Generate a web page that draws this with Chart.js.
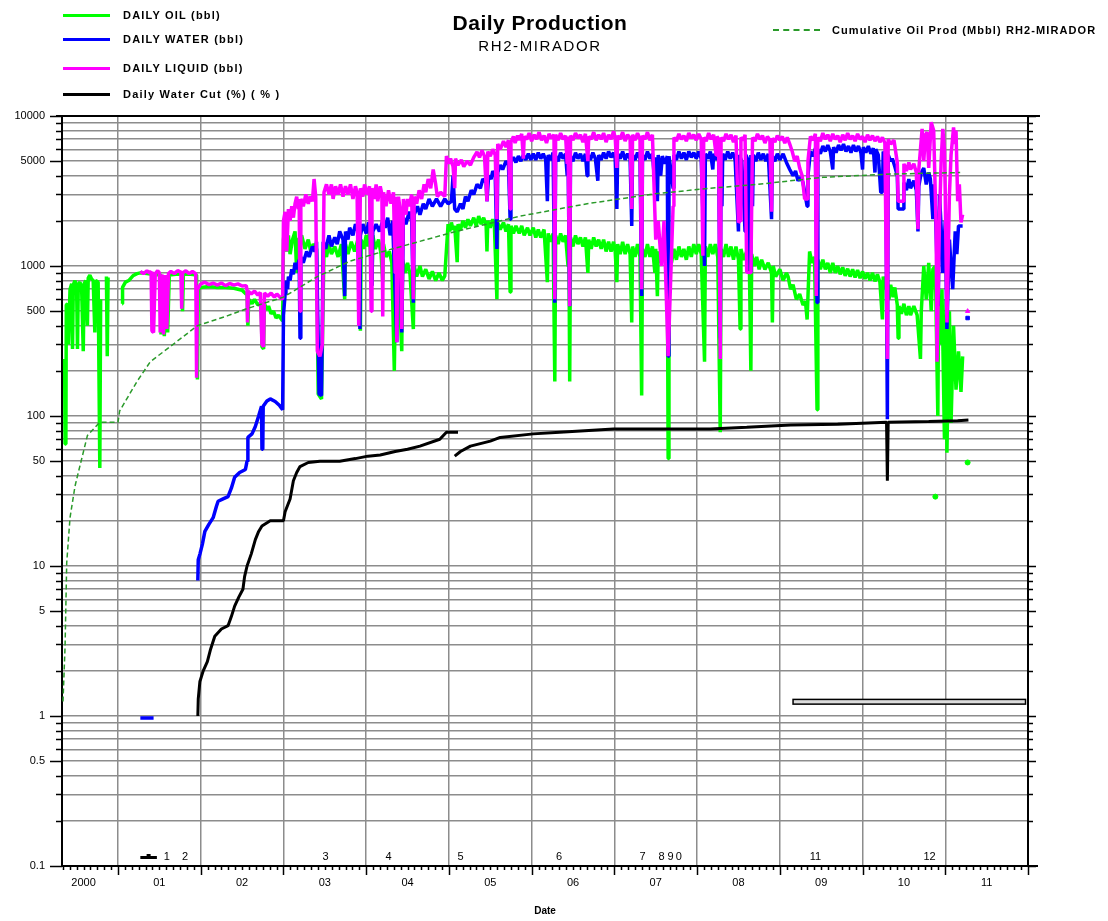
<!DOCTYPE html>
<html lang="en">
<head>
<meta charset="UTF-8">
<title>Daily Production RH2-MIRADOR</title>
<script src="https://cdn.jsdelivr.net/npm/chart.js"></script>
<style>
    body { margin: 0; background: #fff; font-family: "Liberation Sans", Arial, sans-serif; }
    #wrap { position: relative; width: 1108px; height: 921px; }
    .t { position: absolute; color: #000; white-space: nowrap; }
    .title { left: 0; width: 1080px; text-align: center; font-weight: bold; }
    .leg { font-size: 11px; font-weight: bold; letter-spacing: 1.2px; transform: translateY(-50%); }
    .sw { position: absolute; height: 3px; width: 47px; left: 63px; }
</style>
</head>
<body>
<div id="wrap">
    <canvas id="prodChart"></canvas>

    <div class="t title" style="top:11px; font-size:21px; letter-spacing:0.5px;">Daily Production</div>
    <div class="t title" style="top:37px; font-size:15px; letter-spacing:1.6px; font-weight:normal;">RH2-MIRADOR</div>

    <div class="sw" style="top:14px; background:#00ff00;"></div>
    <div class="t leg" style="left:123px; top:15px;">DAILY OIL (bbl)</div>
    <div class="sw" style="top:38px; background:#0000ff;"></div>
    <div class="t leg" style="left:123px; top:39px;">DAILY WATER (bbl)</div>
    <div class="sw" style="top:67px; background:#ff00ff;"></div>
    <div class="t leg" style="left:123px; top:68px;">DAILY LIQUID (bbl)</div>
    <div class="sw" style="top:93px; background:#000;"></div>
    <div class="t leg" style="left:123px; top:94px;">Daily Water Cut (%) ( % )</div>

    <div style="position:absolute; left:773px; top:29px; width:47px; border-top:2px dashed #2a9a2a;"></div>
    <div class="t leg" style="left:832px; top:30px; letter-spacing:1.1px;">Cumulative Oil Prod (Mbbl) RH2-MIRADOR</div>
</div>

<script>
// ---- data: [decimal year, value] ----
const oil = [
    [2000.355,240],[2000.36,65],[2000.37,70],[2000.375,550],[2000.39,560],[2000.40,300],[2000.42,700],[2000.44,760],
    [2000.45,280],[2000.46,750],[2000.48,800],[2000.50,700],[2000.51,280],[2000.52,760],[2000.54,780],[2000.56,720],
    [2000.58,270],[2000.59,760],[2000.61,800],[2000.63,400],[2000.64,830],[2000.66,870],[2000.68,820],[2000.70,800],
    [2000.72,360],[2000.73,800],[2000.76,780],[2000.78,45],[2000.79,600],[2000.80,null],
    [2000.86,850],[2000.87,250],[2000.88,840],[2000.89,null],
    [2001.05,560],[2001.055,720],[2001.09,780],[2001.13,800],[2001.18,860],[2001.23,890],[2001.27,900],[2001.35,890],
    [2001.41,880],[2001.42,360],[2001.44,870],[2001.51,880],[2001.52,350],[2001.54,860],[2001.56,340],[2001.58,860],
    [2001.60,360],[2001.62,870],[2001.70,880],[2001.77,880],[2001.78,500],[2001.79,880],[2001.88,880],[2001.95,870],
    [2001.96,175],[2001.97,700],
    [2002.00,720],[2002.10,730],[2002.20,720],[2002.30,720],[2002.40,710],[2002.50,690],[2002.56,640],[2002.57,400],
    [2002.58,600],[2002.62,560],[2002.65,600],[2002.69,550],[2002.73,570],[2002.74,290],[2002.76,280],[2002.77,560],
    [2002.80,510],[2002.82,540],[2002.85,480],[2002.88,500],[2002.91,450],[2002.94,470],[2002.99,430],
    [2003.00,1500],[2003.02,1900],[2003.04,1250],[2003.06,1600],[2003.08,1200],[2003.11,1500],[2003.14,1700],[2003.16,900],
    [2003.18,1500],[2003.22,1600],[2003.26,1300],[2003.30,1500],[2003.33,1250],[2003.36,1400],[2003.40,1300],[2003.42,140],
    [2003.46,130],[2003.49,1300],[2003.52,1150],[2003.55,1400],[2003.58,1200],[2003.62,1350],[2003.66,1150],[2003.70,1400],
    [2003.74,600],[2003.75,1400],[2003.78,1200],[2003.82,1450],[2003.86,1250],[2003.90,1500],[2003.93,370],[2003.94,1500],
    [2003.97,1300],
    [2004.00,1600],[2004.02,1350],[2004.04,1700],[2004.07,740],[2004.08,1600],[2004.11,1300],[2004.15,1500],[2004.18,1200],
    [2004.20,780],[2004.21,1400],[2004.24,1150],[2004.28,1250],[2004.31,1050],[2004.34,200],[2004.36,1150],[2004.39,950],
    [2004.43,270],[2004.44,1100],[2004.47,900],[2004.50,1050],[2004.53,880],[2004.57,380],[2004.58,1000],[2004.61,850],
    [2004.65,1000],[2004.68,850],[2004.72,950],[2004.76,820],[2004.80,920],[2004.84,800],[2004.88,900],[2004.92,800],
    [2004.95,860],[2004.99,1900],
    [2005.01,1700],[2005.03,1950],[2005.05,1750],[2005.07,1850],[2005.10,1060],[2005.11,1900],[2005.14,1750],[2005.17,2000],
    [2005.20,1800],[2005.23,2050],[2005.26,1850],[2005.30,2100],[2005.33,1850],[2005.36,2150],[2005.39,1900],[2005.42,2100],
    [2005.45,1850],[2005.46,1250],[2005.47,2000],[2005.50,1800],[2005.53,2050],[2005.55,1850],[2005.58,600],[2005.59,1950],
    [2005.62,1750],[2005.66,1950],[2005.69,1700],[2005.72,1900],[2005.74,670],[2005.75,1850],[2005.78,1650],[2005.81,1850],
    [2005.85,1650],[2005.88,1850],[2005.91,1600],[2005.95,1800],[2005.98,1600],
    [2006.02,1800],[2006.05,1550],[2006.08,1750],[2006.11,1550],[2006.15,1750],[2006.19,780],[2006.20,1650],[2006.23,1450],
    [2006.26,1650],[2006.28,170],[2006.29,1600],[2006.32,1400],[2006.35,1650],[2006.38,1450],[2006.41,1600],[2006.44,1000],
    [2006.45,1550],[2006.46,170],[2006.47,1550],[2006.50,1350],[2006.53,1600],[2006.56,1400],[2006.59,1550],[2006.62,1350],
    [2006.65,1550],[2006.68,900],[2006.69,1500],[2006.72,1300],[2006.75,1550],[2006.78,1350],[2006.81,1500],[2006.84,1300],
    [2006.87,1500],[2006.90,1250],[2006.93,1450],[2006.96,1250],[2006.99,1450],
    [2007.01,1250],[2007.03,780],[2007.04,1400],[2007.07,1200],[2007.10,1450],[2007.13,1200],[2007.16,1400],[2007.19,1200],
    [2007.21,420],[2007.22,1350],[2007.25,1150],[2007.28,1400],[2007.31,1150],[2007.33,137],[2007.34,1300],[2007.37,1150],
    [2007.40,1400],[2007.43,1150],[2007.46,1350],[2007.49,900],[2007.50,1300],[2007.52,630],[2007.53,1250],[2007.56,1050],
    [2007.58,1300],[2007.61,1100],[2007.64,1250],[2007.65,52],[2007.66,1250],[2007.69,1050],[2007.72,1300],[2007.75,1100],
    [2007.78,1350],[2007.81,1150],[2007.84,1300],[2007.87,1100],[2007.90,1350],[2007.93,1150],[2007.96,1400],[2007.99,1200],
    [2008.02,1400],[2008.05,1200],[2008.09,230],[2008.10,1350],[2008.13,1150],[2008.16,1400],[2008.19,1200],[2008.22,1400],
    [2008.25,1150],[2008.28,78],[2008.29,1300],[2008.32,1150],[2008.35,1400],[2008.38,1150],[2008.41,1350],[2008.44,1100],
    [2008.47,1350],[2008.50,1100],[2008.52,380],[2008.53,1300],[2008.56,1100],[2008.60,1250],[2008.62,900],[2008.63,1200],
    [2008.65,200],[2008.66,1200],[2008.69,1000],[2008.72,1150],[2008.75,950],[2008.78,1100],[2008.82,950],[2008.86,1050],
    [2008.90,900],[2008.91,420],[2008.92,1000],[2008.95,850],
    [2009.00,950],[2009.04,800],[2009.08,900],[2009.10,850],[2009.13,700],[2009.16,750],[2009.20,600],[2009.24,650],
    [2009.28,550],[2009.31,580],[2009.33,440],[2009.36,1250],[2009.39,1050],[2009.42,1150],[2009.45,110],[2009.46,1100],
    [2009.49,950],[2009.52,1100],[2009.55,950],[2009.58,1050],[2009.61,900],[2009.64,1050],[2009.67,900],[2009.70,1000],
    [2009.73,880],[2009.76,980],[2009.79,860],[2009.82,960],[2009.85,850],[2009.88,950],[2009.91,840],[2009.94,940],
    [2009.97,830],
    [2010.00,920],[2010.03,820],[2010.06,900],[2010.09,800],[2010.12,900],[2010.15,790],[2010.18,880],[2010.21,780],
    [2010.24,440],[2010.25,850],[2010.28,700],[2010.30,800],[2010.32,600],[2010.34,750],[2010.37,620],[2010.39,720],
    [2010.42,550],[2010.43,330],[2010.44,540],[2010.47,480],[2010.50,560],[2010.53,470],[2010.56,540],[2010.58,470],
    [2010.62,540],[2010.66,470],[2010.70,240],[2010.71,500],[2010.74,1000],[2010.77,600],[2010.80,1050],[2010.83,500],
    [2010.85,950],[2010.88,1000],[2010.91,100],[2010.92,600],[2010.94,300],[2010.96,700],[2010.99,70],[2011.01,600],
    [2011.02,57],[2011.04,300],[2011.05,500],[2011.07,90],[2011.10,400],[2011.13,150],[2011.16,270],[2011.19,145],
    [2011.21,250]
];

const water = [
    [2001.27,0.97],[2001.43,0.97],[2001.44,null],
    [2001.965,8],[2001.97,11],[2001.99,12],[2002.02,14],[2002.05,17],[2002.10,19],[2002.15,21],[2002.19,25],[2002.21,27],
    [2002.27,28],[2002.33,29],[2002.37,33],[2002.41,39],[2002.47,42],[2002.54,44],[2002.56,50],[2002.57,72],[2002.62,76],
    [2002.66,85],[2002.70,100],[2002.735,116],[2002.74,60],[2002.75,60],[2002.755,116],[2002.80,126],[2002.84,130],
    [2002.90,125],[2002.95,118],[2002.99,110],
    [2003.00,470],[2003.02,650],[2003.03,800],[2003.05,700],[2003.06,850],[2003.08,800],[2003.10,950],[2003.12,880],
    [2003.14,1050],[2003.16,950],[2003.19,1100],[2003.20,330],[2003.21,1150],[2003.24,1050],[2003.28,1250],[2003.31,1150],
    [2003.35,1350],[2003.38,1250],[2003.40,1450],[2003.43,140],[2003.46,137],[2003.48,1450],[2003.51,1300],[2003.55,1600],
    [2003.58,1350],[2003.62,1550],[2003.65,1400],[2003.68,1700],[2003.72,1500],[2003.74,630],[2003.75,1700],[2003.78,1500],
    [2003.80,1800],[2003.84,1600],[2003.87,1900],[2003.90,1700],[2003.925,380],[2003.93,1600],[2003.96,1900],
    [2004.00,1650],[2004.03,1950],[2004.05,1700],[2004.07,740],[2004.08,1700],[2004.12,1900],[2004.16,1700],[2004.20,2000],
    [2004.23,1800],[2004.26,2100],[2004.29,1600],[2004.32,2000],[2004.37,310],[2004.39,2000],[2004.41,1800],[2004.43,360],
    [2004.45,2100],[2004.48,1900],[2004.52,2300],[2004.55,2000],[2004.57,570],[2004.58,2200],[2004.62,2500],[2004.65,2200],
    [2004.69,2600],[2004.72,2400],[2004.76,2800],[2004.80,2500],[2004.85,2800],[2004.90,2500],[2004.95,2800],[2004.99,2600],
    [2005.03,2700],[2005.05,4000],[2005.07,2400],[2005.10,2300],[2005.14,2600],[2005.17,2400],[2005.20,2900],[2005.23,2700],
    [2005.27,3200],[2005.30,3000],[2005.34,3500],[2005.38,3300],[2005.41,3800],[2005.45,3600],[2005.46,2700],[2005.48,4000],
    [2005.51,3800],[2005.53,4300],[2005.56,4000],[2005.58,1300],[2005.59,4200],[2005.62,4700],[2005.65,4400],[2005.69,5000],
    [2005.72,4700],[2005.74,2050],[2005.75,5000],[2005.78,5300],[2005.81,4900],[2005.84,5400],[2005.87,5000],[2005.90,5500],
    [2005.93,5100],[2005.96,5600],[2005.99,5100],
    [2006.02,5600],[2006.05,5100],[2006.08,5700],[2006.11,5200],[2006.14,5600],[2006.17,5100],[2006.19,2700],[2006.20,5500],
    [2006.23,5100],[2006.26,5700],[2006.28,570],[2006.29,5400],[2006.32,5000],[2006.35,5700],[2006.38,5200],[2006.41,5600],
    [2006.43,4000],[2006.44,5500],[2006.46,540],[2006.47,5400],[2006.50,5000],[2006.53,5700],[2006.56,5200],[2006.59,5600],
    [2006.62,5000],[2006.65,5600],[2006.67,4000],[2006.68,5500],[2006.71,5100],[2006.74,5700],[2006.77,5200],[2006.80,3700],
    [2006.81,5500],[2006.84,5100],[2006.87,5700],[2006.90,5200],[2006.93,5800],[2006.96,5300],[2006.99,5700],
    [2007.01,5200],[2007.03,2400],[2007.04,5600],[2007.07,5200],[2007.10,5800],[2007.13,5100],[2007.16,5600],[2007.19,5200],
    [2007.21,1850],[2007.22,5500],[2007.25,5100],[2007.28,5700],[2007.31,5200],[2007.33,630],[2007.34,5500],[2007.37,5100],
    [2007.40,5800],[2007.43,5200],[2007.46,5600],[2007.49,3500],[2007.50,5300],[2007.52,2700],[2007.53,5500],[2007.56,4000],
    [2007.58,5400],[2007.61,4800],[2007.64,5400],[2007.65,250],[2007.66,5400],[2007.68,4500],[2007.71,3300],[2007.72,5500],
    [2007.75,5100],[2007.78,5800],[2007.81,5200],[2007.84,5700],[2007.87,5100],[2007.90,5800],[2007.93,5300],[2007.96,5700],
    [2007.99,5200],
    [2008.02,5800],[2008.05,5200],[2008.09,1000],[2008.10,5600],[2008.13,5200],[2008.16,5800],[2008.19,4400],[2008.20,5600],
    [2008.23,5100],[2008.26,5700],[2008.28,330],[2008.29,5600],[2008.30,2500],[2008.31,5600],[2008.34,5100],[2008.37,5800],
    [2008.40,5200],[2008.43,5700],[2008.46,5100],[2008.50,1700],[2008.51,5500],[2008.54,5000],[2008.58,1700],[2008.59,5500],
    [2008.62,5000],[2008.64,910],[2008.65,5500],[2008.67,2500],[2008.68,5500],[2008.71,5000],[2008.74,5700],[2008.77,5100],
    [2008.80,5600],[2008.83,5000],[2008.86,5600],[2008.90,2050],[2008.91,5400],[2008.94,5000],[2008.97,5600],
    [2009.00,5100],[2009.04,5600],[2009.08,4900],[2009.12,4400],[2009.16,4000],[2009.19,4300],[2009.22,3700],[2009.25,3900],
    [2009.28,3600],[2009.33,2500],[2009.34,4000],[2009.37,5800],[2009.40,5400],[2009.43,6100],[2009.45,570],[2009.46,6000],
    [2009.49,5600],[2009.52,6300],[2009.55,5800],[2009.58,6400],[2009.61,5800],[2009.64,4400],[2009.65,6200],[2009.68,5700],
    [2009.71,6400],[2009.74,5900],[2009.77,6500],[2009.80,5800],[2009.83,6300],[2009.86,5700],[2009.89,6400],[2009.92,5800],
    [2009.95,6300],[2009.98,5700],
    [2010.00,4400],[2010.01,6200],[2010.04,5700],[2010.07,6300],[2010.10,5600],[2010.13,6100],[2010.15,4200],[2010.16,6000],
    [2010.19,5500],[2010.22,3100],[2010.24,3100],[2010.25,5800],[2010.28,5300],[2010.30,95],[2010.31,5500],[2010.34,5000],
    [2010.36,5200],[2010.39,4600],[2010.42,4000],[2010.43,2400],[2010.49,2400],[2010.50,3600],[2010.53,3200],[2010.56,3800],
    [2010.58,3300],[2010.62,3700],[2010.65,3200],[2010.67,1700],[2010.68,3400],[2010.71,4200],[2010.74,4500],[2010.77,3500],
    [2010.80,4200],[2010.82,3800],[2010.85,2050],[2010.86,3500],[2010.88,2500],[2010.915,540],[2010.93,3000],[2010.95,1800],
    [2010.97,900],[2011.00,2000],[2011.02,380],[2011.05,1500],[2011.07,1000],[2011.09,700],[2011.12,1700],[2011.14,1200],
    [2011.16,1850],[2011.21,1850]
];

const liquid = [
    [2001.27,920],[2001.31,890],[2001.35,930],[2001.38,900],[2001.40,920],[2001.41,370],[2001.43,360],[2001.45,890],
    [2001.48,930],[2001.50,900],[2001.51,360],[2001.53,880],[2001.55,350],[2001.57,870],[2001.59,380],[2001.61,890],
    [2001.64,920],[2001.68,890],[2001.72,930],[2001.76,910],[2001.77,520],[2001.78,900],[2001.82,930],[2001.86,890],
    [2001.90,920],[2001.94,890],[2001.95,180],[2001.96,700],
    [2002.00,760],[2002.05,780],[2002.10,750],[2002.15,770],[2002.20,745],[2002.25,770],[2002.30,740],[2002.35,765],
    [2002.40,745],[2002.45,760],[2002.50,735],[2002.55,740],[2002.56,690],[2002.565,420],[2002.575,680],[2002.61,650],
    [2002.65,680],[2002.69,640],[2002.72,665],[2002.74,300],[2002.76,290],[2002.77,660],[2002.81,630],[2002.85,660],
    [2002.89,620],[2002.92,650],[2002.97,610],[2002.99,600],
    [2003.00,2000],[2003.02,2300],[2003.04,1250],[2003.06,2400],[2003.08,2000],[2003.10,2500],[2003.12,2100],[2003.14,2600],
    [2003.16,2900],[2003.18,2400],[2003.19,2800],[2003.20,500],[2003.21,2800],[2003.24,2500],[2003.27,3000],[2003.30,2600],
    [2003.32,2900],[2003.35,2700],[2003.37,3800],[2003.39,2900],[2003.41,270],[2003.44,250],[2003.47,300],[2003.49,3100],
    [2003.52,3500],[2003.55,3000],[2003.58,3500],[2003.60,2800],[2003.63,3400],[2003.66,3000],[2003.69,3500],[2003.72,2900],
    [2003.75,3400],[2003.78,3000],[2003.81,3500],[2003.84,2800],[2003.87,3400],[2003.89,3100],[2003.91,400],[2003.93,3300],
    [2003.96,2900],[2003.98,3500],
    [2004.01,3000],[2004.04,3400],[2004.06,500],[2004.07,3300],[2004.10,2800],[2004.12,3500],[2004.14,2700],[2004.17,3400],
    [2004.19,3000],[2004.20,460],[2004.21,3100],[2004.24,2500],[2004.27,3200],[2004.30,2600],[2004.33,3100],[2004.35,900],
    [2004.36,2900],[2004.37,310],[2004.39,2900],[2004.41,2400],[2004.43,380],[2004.45,2800],[2004.48,2200],[2004.50,2800],
    [2004.52,2500],[2004.55,3000],[2004.57,600],[2004.58,2900],[2004.61,2600],[2004.64,3200],[2004.67,2800],[2004.70,3500],
    [2004.72,3100],[2004.75,3800],[2004.78,3300],[2004.81,4400],[2004.84,3500],[2004.86,2900],[2004.90,3100],[2004.95,2900],
    [2004.97,5400],
    [2005.00,4800],[2005.02,5200],[2005.05,4600],[2005.07,3300],[2005.08,5200],[2005.11,4700],[2005.15,5100],[2005.18,4600],
    [2005.22,5000],[2005.26,4700],[2005.30,5300],[2005.34,5750],[2005.37,5300],[2005.40,5900],[2005.43,5400],[2005.46,2700],
    [2005.47,5800],[2005.50,5400],[2005.53,6000],[2005.56,5500],[2005.58,2050],[2005.59,6500],[2005.62,6000],[2005.66,6800],
    [2005.69,6200],[2005.72,6900],[2005.74,2400],[2005.75,6700],[2005.78,7300],[2005.80,6600],[2005.83,7400],[2005.85,6900],
    [2005.88,7600],[2005.90,5200],[2005.91,7300],[2005.94,7000],[2005.97,7700],
    [2006.00,6800],[2006.03,7500],[2006.06,7000],[2006.09,7800],[2006.12,6900],[2006.15,7400],[2006.18,6600],[2006.21,7600],
    [2006.24,7100],[2006.27,7500],[2006.28,600],[2006.29,7500],[2006.32,6900],[2006.35,7700],[2006.38,7000],[2006.41,7400],
    [2006.43,4800],[2006.44,7300],[2006.46,540],[2006.47,7400],[2006.50,6900],[2006.53,7700],[2006.56,7100],[2006.59,7500],
    [2006.62,6700],[2006.65,7600],[2006.68,5000],[2006.69,7300],[2006.72,7000],[2006.75,7800],[2006.78,6900],[2006.81,7500],
    [2006.84,7000],[2006.87,7700],[2006.90,6700],[2006.93,7500],[2006.96,7000],[2006.99,7900],
    [2007.01,7200],[2007.03,4500],[2007.04,7400],[2007.07,7000],[2007.10,7800],[2007.13,6800],[2007.16,7500],[2007.19,7100],
    [2007.21,2400],[2007.22,7500],[2007.25,6900],[2007.28,7700],[2007.31,7000],[2007.33,700],[2007.34,7400],[2007.37,7000],
    [2007.40,7800],[2007.43,6900],[2007.46,7500],[2007.50,1500],[2007.53,2000],[2007.57,1000],[2007.60,2000],[2007.65,250],
    [2007.68,800],[2007.71,2500],[2007.72,7200],[2007.75,6800],[2007.78,7600],[2007.81,7000],[2007.84,7400],[2007.87,6800],
    [2007.90,7700],[2007.93,7100],[2007.96,7500],[2007.99,6900],
    [2008.02,7600],[2008.05,7000],[2008.07,1170],[2008.08,7200],[2008.11,6800],[2008.14,7700],[2008.17,7000],[2008.20,7500],
    [2008.23,5500],[2008.24,7300],[2008.26,7000],[2008.28,240],[2008.29,7200],[2008.32,6800],[2008.35,7600],[2008.38,7000],
    [2008.41,7500],[2008.44,6700],[2008.47,7400],[2008.50,1950],[2008.52,2000],[2008.53,7200],[2008.56,6900],[2008.58,7500],
    [2008.60,910],[2008.65,900],[2008.67,7200],[2008.70,6800],[2008.73,7600],[2008.76,7000],[2008.79,7400],[2008.82,6600],
    [2008.85,7300],[2008.88,6900],[2008.90,2300],[2008.91,7100],[2008.94,6700],[2008.97,7400],
    [2009.00,6900],[2009.03,7300],[2009.06,6600],[2009.09,7200],[2009.12,6500],[2009.15,5800],[2009.18,5000],[2009.21,5400],
    [2009.24,4500],[2009.27,4000],[2009.30,2800],[2009.33,2800],[2009.34,5000],[2009.37,7300],[2009.40,6900],[2009.43,7600],
    [2009.44,630],[2009.46,7200],[2009.49,6800],[2009.52,7700],[2009.55,7000],[2009.58,7500],[2009.61,6800],[2009.64,7600],
    [2009.67,7000],[2009.70,7400],[2009.73,6700],[2009.76,7500],[2009.79,6900],[2009.82,7700],[2009.85,7000],[2009.88,7400],
    [2009.91,6800],[2009.94,7600],[2009.97,7000],
    [2010.00,7300],[2010.03,6700],[2010.06,7500],[2010.09,6900],[2010.12,7400],[2010.15,6800],[2010.18,7300],[2010.21,6700],
    [2010.24,7200],[2010.27,6600],[2010.30,240],[2010.31,7000],[2010.34,6500],[2010.38,6900],[2010.42,4900],[2010.43,2700],
    [2010.49,2700],[2010.50,4800],[2010.53,4300],[2010.56,4900],[2010.58,4400],[2010.62,4800],[2010.65,4200],[2010.67,1760],
    [2010.68,4400],[2010.70,6000],[2010.72,8200],[2010.74,5000],[2010.76,7500],[2010.78,7800],[2010.80,4500],[2010.83,9100],
    [2010.86,8000],[2010.89,1760],[2010.90,230],[2010.93,2000],[2010.95,5000],[2010.97,8200],[2010.99,6000],[2011.00,3000],
    [2011.02,420],[2011.05,3000],[2011.07,5500],[2011.10,8400],[2011.12,6500],[2011.13,8000],[2011.15,2700],[2011.17,3500],
    [2011.19,1950],[2011.21,2200]
];

const waterCut = [
    [2001.965,1.0],[2001.97,1.3],[2001.99,1.7],[2002.03,2.0],[2002.08,2.3],[2002.12,2.8],[2002.17,3.4],[2002.25,3.8],
    [2002.33,4.0],[2002.37,4.6],[2002.41,5.4],[2002.46,6.2],[2002.51,7.0],[2002.53,8.5],[2002.56,10],[2002.61,12],
    [2002.66,15],[2002.70,17],[2002.74,18.5],[2002.84,20],[2003.00,20],[2003.02,23],[2003.08,28],[2003.12,37],
    [2003.16,42],[2003.20,46],[2003.30,49],[2003.44,50],[2003.68,50],[2003.87,52],[2004.02,54],[2004.17,55],
    [2004.35,58],[2004.50,60],[2004.65,63],[2004.89,70],[2004.97,78],[2005.11,78],[2005.12,null],
    [2005.07,54],[2005.14,58],[2005.26,63],[2005.50,68],[2005.62,72],[2006.02,76],[2006.34,78],[2006.99,82],
    [2008.16,82],[2008.60,84],[2009.13,87],[2009.70,88],[2010.29,91],[2010.30,37],[2010.31,91],[2010.80,92],
    [2011.15,93],[2011.28,94]
];

const cumOil = [
    [2000.335,1.25],[2000.36,2.9],[2000.38,10.5],[2000.42,21],[2000.48,34],[2000.52,42],[2000.63,74],[2000.78,91],
    [2001.00,91],[2001.02,108],[2001.23,170],[2001.39,230],[2001.63,290],[2001.96,400],[2002.32,465],[2002.56,520],
    [2003.00,620],[2003.41,850],[2003.81,1080],[2004.25,1270],[2005.05,1680],[2005.86,2150],[2006.67,2600],
    [2007.47,3020],[2008.16,3300],[2008.73,3500],[2009.52,3900],[2010.33,4100],[2011.18,4200]
];

// stray single readings after the last continuous data
const oilDots = [[2010.88,29],[2011.27,49]];
const waterDots = [[2011.27,450]];
const liquidDots = [[2011.27,500]];

// axis labels
const yearLabels = ['2000','01','02','03','04','05','06','07','08','09','10','11'];
const yTickLabels = ['0.1','0.5','1','5','10','50','100','500','1000','5000','10000'];

// well event markers along the bottom of the plot
const eventYears = [2001.59, 2001.81, 2003.51, 2004.27, 2005.14, 2006.33, 2007.34, 2007.57, 2007.68, 2007.78, 2009.43, 2010.81];
const eventLabels = ['1','2','3','4','5','6','7','8','9','0','11','12'];
const eventDash = [2001.27, 2001.47];

// grey box drawn in the lower right of the plot
const boxX = [2009.16, 2011.97];
const boxY = [1.20, 1.29];

const X_MIN = 2000.323, X_MAX = 2012.0;
const FONT = '"Liberation Sans", Arial, sans-serif';

function isYear(v) { return Math.abs(v - Math.round(v)) < 1e-6; }
function monthOf(v) { return Math.round((v - Math.floor(v + 1e-9)) * 12); }

// tick marks, frame and annotations, placed through the scales
const frame = {
    id: 'frame',
    afterDraw(chart) {
        const { ctx, chartArea: a, scales: { x, y } } = chart;
        ctx.save();
        ctx.strokeStyle = '#000';
        ctx.lineWidth = 1.5;
        y.ticks.forEach(t => {
            const py = Math.round(y.getPixelForValue(t.value)) + 0.5;
            const major = yTickLabels.includes(String(t.value));
            ctx.beginPath();
            ctx.moveTo(a.left - (major ? 12 : 6), py);
            ctx.lineTo(a.left, py);
            ctx.moveTo(a.right, py);
            ctx.lineTo(a.right + (major ? 8 : 5), py);
            ctx.stroke();
        });
        x.ticks.forEach(t => {
            const px = Math.round(x.getPixelForValue(t.value)) + 0.5;
            ctx.beginPath();
            ctx.moveTo(px, a.bottom);
            ctx.lineTo(px, a.bottom + (isYear(t.value) ? 9 : 4));
            ctx.stroke();
        });
        ctx.lineWidth = 2;
        ctx.beginPath();
        ctx.moveTo(a.left - 6, a.top);
        ctx.lineTo(a.right + 12, a.top);
        ctx.moveTo(a.right, a.top);
        ctx.lineTo(a.right, a.bottom);
        ctx.moveTo(a.right, a.bottom);
        ctx.lineTo(a.right + 10, a.bottom);
        ctx.stroke();

        const bx0 = x.getPixelForValue(boxX[0]), bx1 = x.getPixelForValue(boxX[1]);
        const by0 = y.getPixelForValue(boxY[1]), by1 = y.getPixelForValue(boxY[0]);
        ctx.fillStyle = '#dcdcdc';
        ctx.fillRect(bx0, by0, bx1 - bx0, by1 - by0);
        ctx.lineWidth = 1.5;
        ctx.strokeRect(bx0, by0, bx1 - bx0, by1 - by0);

        ctx.fillStyle = '#000';
        ctx.font = '11px ' + FONT;
        ctx.textAlign = 'center';
        ctx.textBaseline = 'middle';
        eventYears.forEach((v, i) => {
            ctx.fillText(eventLabels[i], x.getPixelForValue(v), a.bottom - 9);
        });
        const d0 = x.getPixelForValue(eventDash[0]), d1 = x.getPixelForValue(eventDash[1]);
        ctx.fillRect(d0, a.bottom - 10, d1 - d0, 3);
        ctx.fillRect((d0 + d1) / 2 - 2, a.bottom - 12, 4, 2);
        ctx.restore();
    }
};

function line(label, data, color, width, order, extra) {
    return Object.assign({
        label: label,
        data: data,
        borderColor: color,
        backgroundColor: color,
        borderWidth: width,
        pointRadius: 0,
        borderJoinStyle: 'bevel',
        tension: 0,
        order: order
    }, extra || {});
}

function dots(data, color, style) {
    return {
        data: data,
        showLine: false,
        pointRadius: 2.5,
        pointStyle: style,
        borderColor: color,
        backgroundColor: color,
        borderWidth: 1,
        order: 0
    };
}

new Chart(document.getElementById('prodChart'), {
    type: 'line',
    data: {
        datasets: [
            line('Daily Water Cut (%)', waterCut, '#000000', 3, 1),
            line('Cumulative Oil Prod (Mbbl)', cumOil, '#2a9a2a', 1.5, 2, { borderDash: [5, 3] }),
            line('DAILY LIQUID (bbl)', liquid, '#ff00ff', 3.5, 3),
            line('DAILY WATER (bbl)', water, '#0000ff', 3.5, 4),
            line('DAILY OIL (bbl)', oil, '#00ff00', 3.5, 5),
            dots(oilDots, '#00ff00', 'circle'),
            dots(waterDots, '#0000ff', 'rect'),
            dots(liquidDots, '#ff00ff', 'triangle')
        ]
    },
    options: {
        responsive: true,
        maintainAspectRatio: false,
        animation: false,
        events: [],
        layout: { padding: { top: 116, right: 80, left: 0, bottom: 0 } },
        plugins: {
            legend: { display: false },
            tooltip: { enabled: false }
        },
        scales: {
            x: {
                type: 'linear',
                min: X_MIN,
                max: X_MAX,
                afterBuildTicks: (scale) => {
                    const ticks = [];
                    for (let m = 4; m <= 144; m++) ticks.push({ value: 2000 + m / 12 });
                    scale.ticks = ticks.filter(t => t.value >= X_MIN - 1e-9 && t.value <= X_MAX + 1e-9);
                },
                afterFit: (scale) => { scale.height = 55; },
                grid: {
                    drawTicks: false,
                    color: (c) => (c.tick && isYear(c.tick.value)) ? '#8c8c8c' : 'rgba(0,0,0,0)',
                    lineWidth: (c) => (c.tick && isYear(c.tick.value)) ? 1.5 : 0
                },
                border: { display: true, color: '#000', width: 2 },
                ticks: {
                    autoSkip: false,
                    maxRotation: 0,
                    padding: 10,
                    color: '#000',
                    font: { size: 11, family: FONT },
                    callback: (v) => {
                        const yr = Math.floor(v + 1e-9);
                        const m = monthOf(v);
                        const at = yr === 2000 ? 7 : 6;
                        return m === at ? (yearLabels[yr - 2000] || '') : '';
                    }
                },
                title: {
                    display: true,
                    text: 'Date',
                    color: '#000',
                    font: { size: 10, weight: 'bold', family: FONT },
                    padding: { top: 0, bottom: 4 }
                }
            },
            y: {
                type: 'logarithmic',
                min: 0.1,
                max: 10000,
                afterBuildTicks: (scale) => {
                    const ticks = [];
                    for (let k = -1; k <= 3; k++) {
                        for (let m = 1; m <= 9; m++) ticks.push({ value: +(m * Math.pow(10, k)).toPrecision(2) });
                    }
                    ticks.push({ value: 10000 });
                    scale.ticks = ticks;
                },
                afterFit: (scale) => { scale.width = 62; },
                grid: { drawTicks: false, color: '#8c8c8c', lineWidth: 1.5 },
                border: { display: true, color: '#000', width: 2 },
                ticks: {
                    autoSkip: false,
                    padding: 17,
                    color: '#000',
                    font: { size: 11, family: FONT },
                    callback: (v) => yTickLabels.includes(String(v)) ? String(v) : ''
                }
            }
        }
    },
    plugins: [frame]
});
</script>
</body>
</html>
